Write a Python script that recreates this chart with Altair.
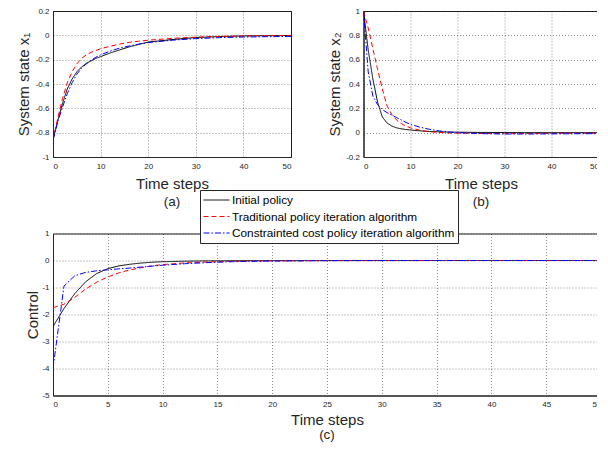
import altair as alt
import pandas as pd

# ---------------- data ----------------
t = [0, 1, 2, 3, 4, 5, 6, 7, 8, 9, 10, 12, 14, 16, 18, 20, 25, 30, 35, 40, 45, 50]

names = ["Initial policy",
         "Traditional policy iteration algorithm",
         "Constrainted cost policy iteration algorithm"]

x1_initial = [-0.86, -0.70, -0.56, -0.44, -0.36, -0.30, -0.26, -0.23, -0.21, -0.19, -0.175,
              -0.145, -0.12, -0.095, -0.075, -0.055, -0.035, -0.018, -0.010, -0.005, -0.003, -0.001]
x1_trad = [-0.86, -0.68, -0.52, -0.39, -0.30, -0.235, -0.19, -0.16, -0.14, -0.125, -0.11,
           -0.09, -0.072, -0.058, -0.048, -0.040, -0.025, -0.015, -0.009, -0.005, -0.003, -0.001]
x1_cons = [-0.86, -0.71, -0.59, -0.48, -0.39, -0.32, -0.27, -0.235, -0.205, -0.18, -0.16,
           -0.13, -0.105, -0.088, -0.072, -0.060, -0.040, -0.027, -0.019, -0.014, -0.011, -0.009]

x2_initial = [1.0, 0.68, 0.44, 0.25, 0.13, 0.08, 0.055, 0.04, 0.032, 0.026, 0.022,
              0.015, 0.010, 0.007, 0.005, 0.004, 0.002, 0.001, 0.0, 0.0, 0.0, 0.0]
x2_trad = [1.0, 0.86, 0.69, 0.52, 0.36, 0.22, 0.15, 0.105, 0.075, 0.055, 0.04,
           0.02, 0.008, 0.002, -0.002, -0.004, -0.007, -0.008, -0.007, -0.006, -0.005, -0.004]
x2_cons = [1.0, 0.50, 0.30, 0.23, 0.19, 0.165, 0.145, 0.125, 0.105, 0.085, 0.068,
           0.045, 0.028, 0.015, 0.006, 0.0, -0.008, -0.011, -0.011, -0.010, -0.009, -0.008]

u_initial = [-2.45, -1.78, -1.22, -0.78, -0.48, -0.30, -0.20, -0.14, -0.095, -0.065, -0.045,
             -0.025, -0.014, -0.008, -0.005, -0.003, -0.001, 0.0, 0.0, 0.0, 0.0, 0.0]
u_trad = [-1.75, -1.62, -1.36, -1.05, -0.80, -0.61, -0.46, -0.35, -0.27, -0.20, -0.15,
          -0.09, -0.055, -0.035, -0.022, -0.014, -0.005, -0.002, 0.0, 0.0, 0.0, 0.0]
u_cons = [-4.0, -0.95, -0.56, -0.44, -0.38, -0.345, -0.31, -0.28, -0.245, -0.21, -0.175,
          -0.12, -0.08, -0.05, -0.03, -0.02, -0.006, -0.002, 0.0, 0.0, 0.0, 0.0]

x_ticks_top = [0, 10, 20, 30, 40, 50]
x_ticks_bottom = [0, 5, 10, 15, 20, 25, 30, 35, 40, 45, 50]
y_ticks_x1 = [-1, -0.8, -0.6, -0.4, -0.2, 0, 0.2]
y_ticks_x2 = [-0.2, 0, 0.2, 0.4, 0.6, 0.8, 1]
y_ticks_u = [-5, -4, -3, -2, -1, 0, 1]

series_colors = ["#000000", "#ff0000", "#0000ff"]
series_dashes = [[1, 0], [5, 3], [6, 2, 1.5, 2]]

FONT = "Liberation Sans"
INK = "#262626"
EXT = 44


def long_df(a, b, c):
    rows = []
    for name, vals in zip(names, (a, b, c)):
        for ti, v in zip(t, vals):
            rows.append({"t": ti, "v": v, "series": name})
    return pd.DataFrame(rows)


legend = alt.Legend(
    title=None, orient="none", legendX=147, legendY=179,
    symbolType="M-1,0H3", symbolSize=169, symbolStrokeWidth=1,
    labelFont=FONT, labelFontSize=11.8, labelColor="#000000", labelLimit=500,
    labelOffset=15, strokeColor=INK, fillColor="white", padding=3, rowPadding=2.5,
)


def panel(df, ydom, yvals, xvals, ytitle, w, h, sub, title_x, sub_offset, xtitle_pad):
    x = alt.X("t:Q", scale=alt.Scale(domain=[0, 50], nice=False),
              axis=alt.Axis(values=xvals, title="Time steps", titlePadding=xtitle_pad))
    y = alt.Y("v:Q", scale=alt.Scale(domain=ydom, nice=False),
              axis=alt.Axis(values=yvals, title=ytitle, labelExpr="'' + datum.value",
                            minExtent=EXT, maxExtent=EXT, titleX=title_x, titleY=h / 2))
    color = alt.Color("series:N", scale=alt.Scale(domain=names, range=series_colors),
                      legend=legend)
    dash = alt.StrokeDash("series:N", scale=alt.Scale(domain=names, range=series_dashes),
                          legend=legend)
    layers = []
    for s in names:
        layers.append(
            alt.Chart(df)
            .transform_filter(alt.datum.series == s)
            .mark_line(strokeWidth=1, clip=True)
            .encode(x=x, y=y, color=color, strokeDash=dash)
        )
    return alt.layer(*layers).properties(
        width=w, height=h,
        title=alt.TitleParams(sub, orient="bottom", fontSize=13.5, fontWeight="normal",
                              font=FONT, color=INK, offset=sub_offset),
    )


a = panel(long_df(x1_initial, x1_trad, x1_cons), [-1, 0.2], y_ticks_x1, x_ticks_top,
          "System state x\u2081", 238, 146, "(a)", -22, 4, 6)
b = panel(long_df(x2_initial, x2_trad, x2_cons), [-0.2, 1], y_ticks_x2, x_ticks_top,
          "System state x\u2082", 235, 146, "(b)", -21, 4, 6)
c = panel(long_df(u_initial, u_trad, u_cons), [-5, 1], y_ticks_u, x_ticks_bottom,
          "Control", 548, 162, "(c)", -13, 0, 4)

top = alt.hconcat(a, b, spacing=26.5)
chart = (
    alt.vconcat(top, c, spacing=19.5)
    .properties(padding={"left": 0, "top": -2, "right": -5, "bottom": 1})
    .configure_axis(
        labelFont=FONT, labelFontSize=8, labelColor=INK, labelPadding=4,
        titleFont=FONT, titleFontSize=15, titleFontWeight="normal", titleColor=INK,
        titlePadding=4, ticks=False, domainColor=INK, domainWidth=1,
        grid=True, gridColor="#000000", gridOpacity=0.45, gridDash=[1, 2], gridWidth=1,
    )
    .configure_axisX(labelPadding=5)
    .configure_view(stroke=INK, strokeWidth=1)
)

chart.save("out.html", embed_options={"renderer": "svg", "actions": False})
